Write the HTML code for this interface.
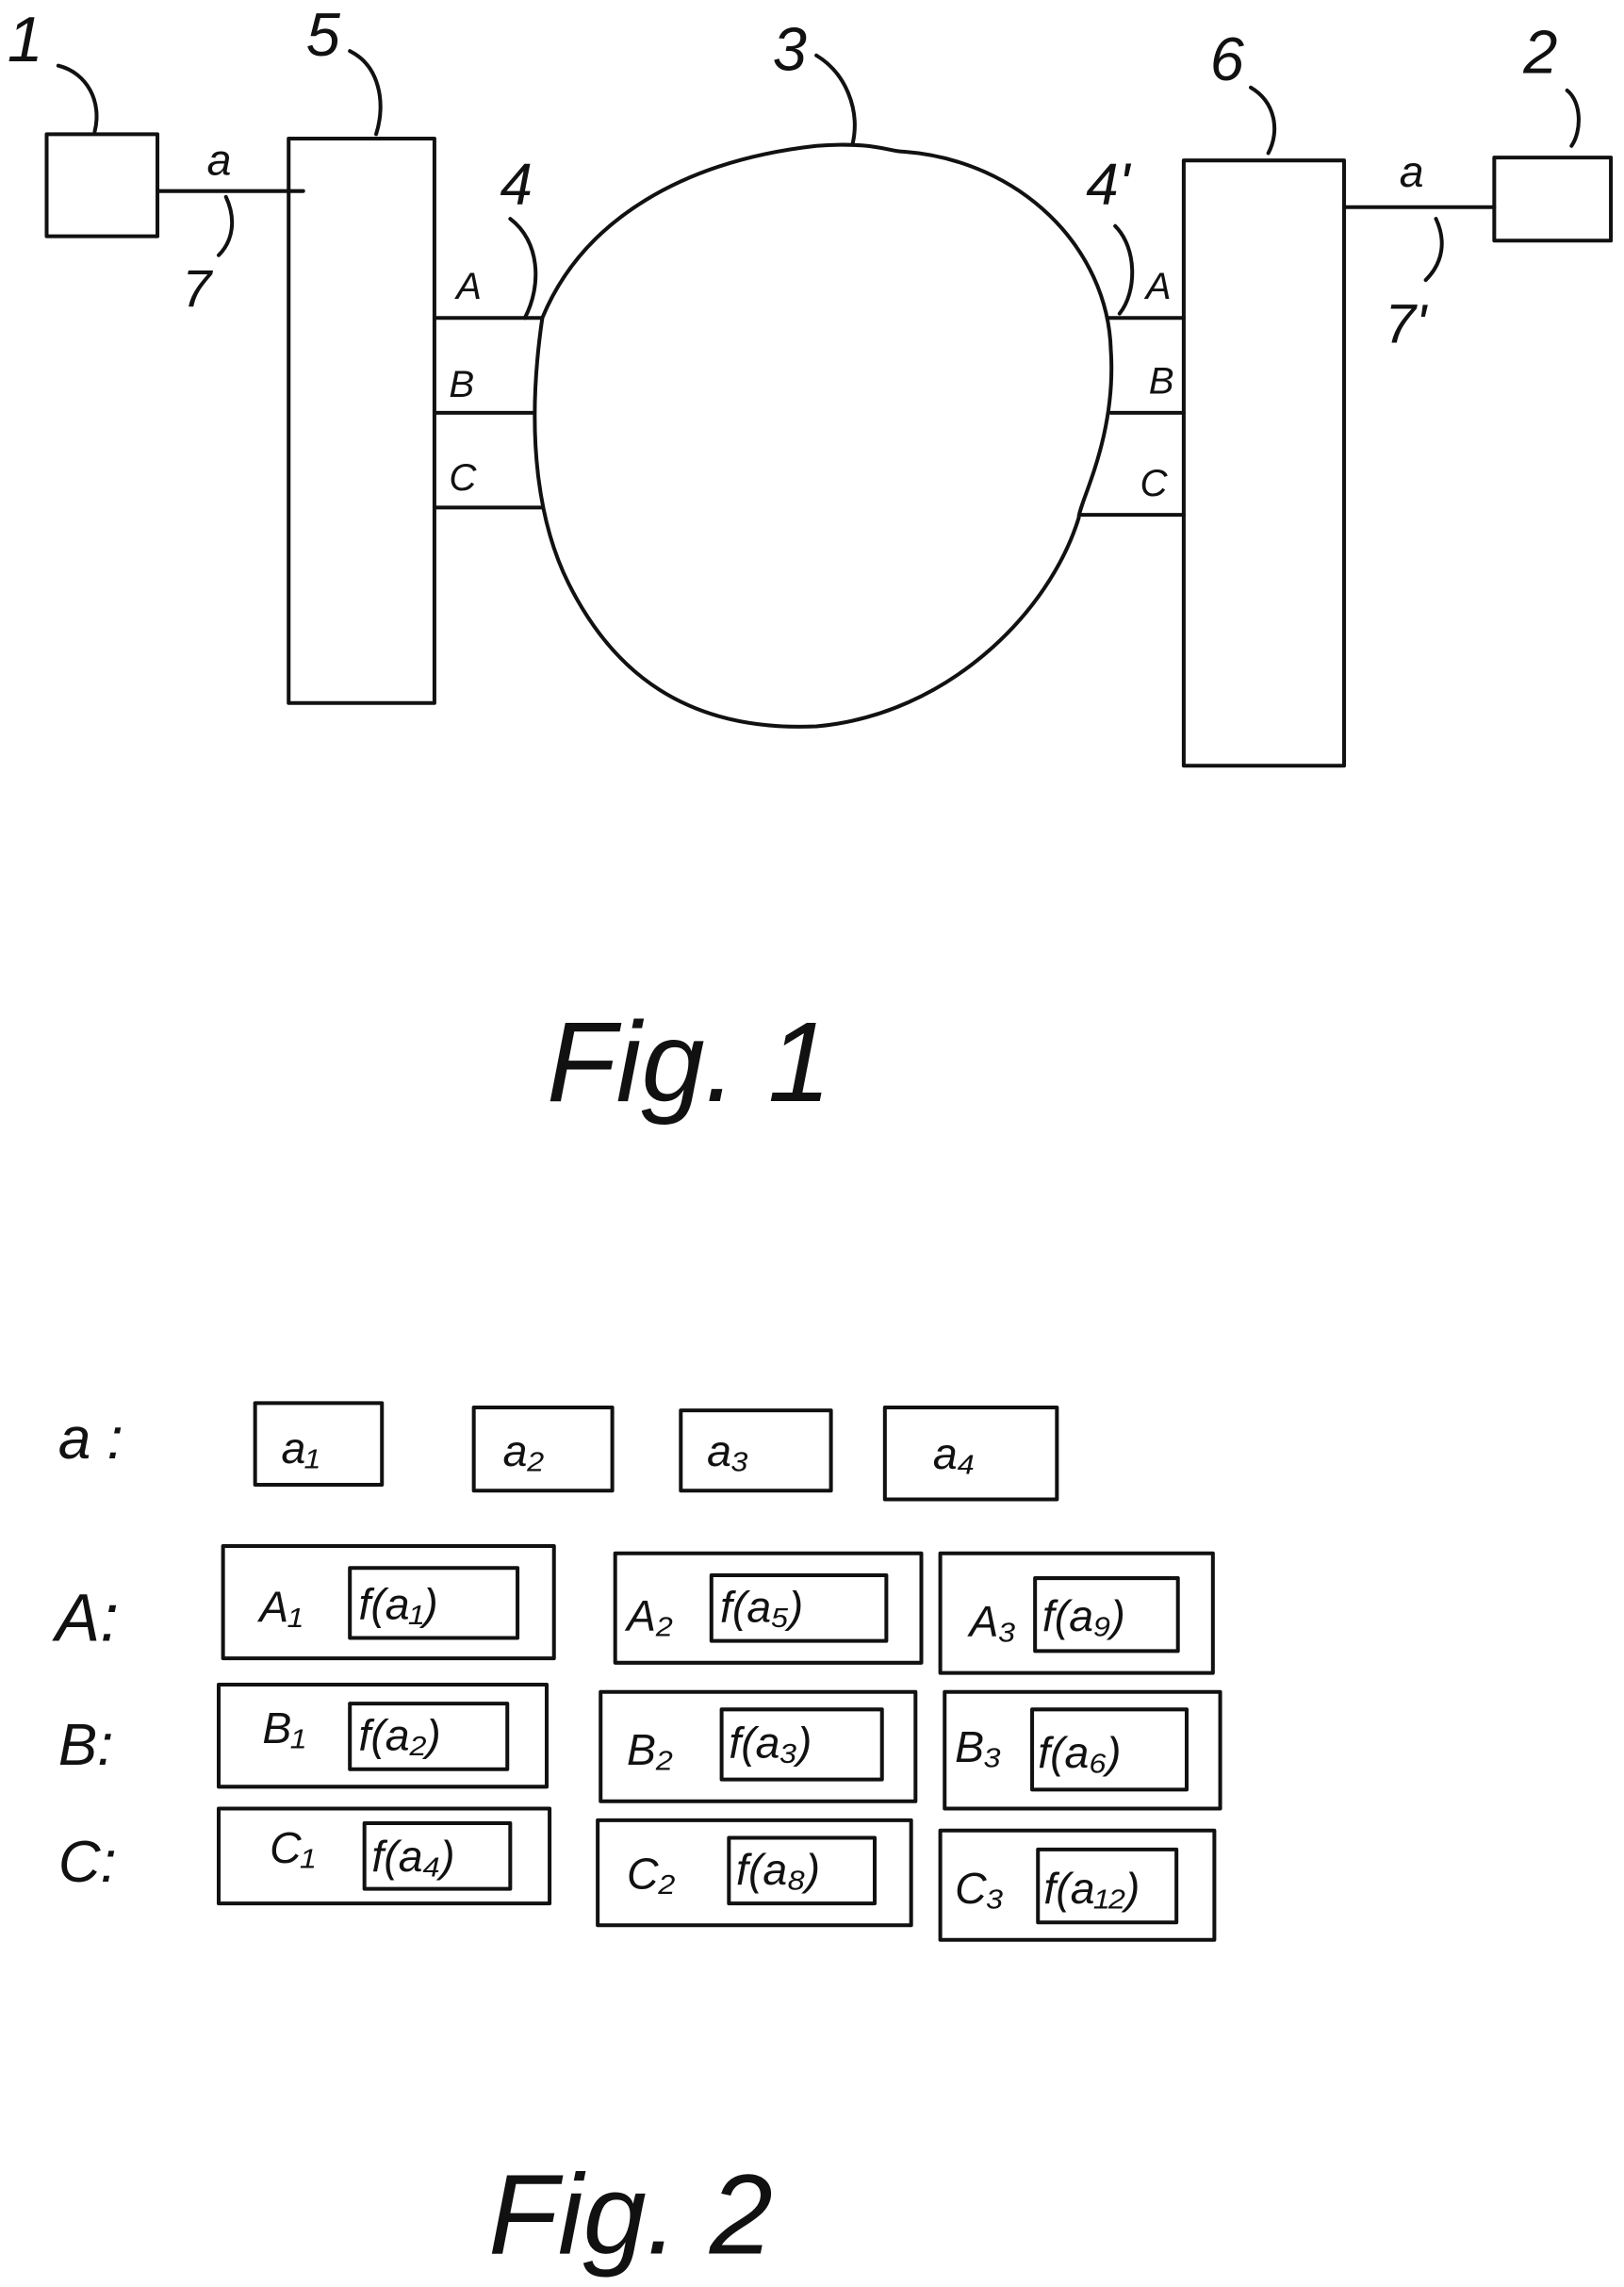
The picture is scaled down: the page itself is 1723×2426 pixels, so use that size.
<!DOCTYPE html>
<html><head><meta charset="utf-8"><style>
html,body{margin:0;padding:0;background:#fff}
svg{display:block}
text{font-family:"Liberation Sans",sans-serif;fill:#111}
</style></head><body>
<svg width="1723" height="2426" viewBox="0 0 1114 1568" preserveAspectRatio="none" xmlns="http://www.w3.org/2000/svg">
<g fill="none" stroke="#111" stroke-width="2.6" stroke-linecap="round" stroke-linejoin="round">
  <!-- Fig 1 -->
  <rect x="32" y="92" width="76" height="70"/>
  <rect x="198" y="95" width="100" height="387"/>
  <path d="M108 131 L208 131"/>
  <path d="M372 218 C400 150 470 110 560 100 C600 97 610 104 620 104 C700 110 760 170 762 240 C766 300 740 345 740 355 C720 420 650 490 560 498 C470 502 420 460 390 400 C370 360 360 300 372 218 Z"/>
  <path d="M298 218 L372 218 M298 283 L366 283 M298 348 L372 348"/>
  <rect x="812" y="110" width="110" height="415"/>
  <path d="M760 218 L812 218 M762 283 L812 283 M742 353 L812 353"/>
  <path d="M922 142 L1025 142"/>
  <rect x="1025" y="108" width="80" height="57"/>
  <!-- leaders -->
  <path d="M40 45 C60 50 70 70 65 90 M240 35 C260 45 265 70 258 92 M560 38 C580 50 590 75 585 98 M350 150 C370 165 372 195 360 218 M858 60 C875 70 878 90 870 105 M1075 62 C1085 70 1085 90 1078 100 M155 135 C162 150 160 165 150 175 M765 155 C780 170 780 200 768 215 M985 150 C992 165 990 180 978 192"/>
  <!-- Fig 2 boxes -->
  <rect x="175" y="962" width="87" height="56"/>
  <rect x="325" y="965" width="95" height="57"/>
  <rect x="467" y="967" width="103" height="55"/>
  <rect x="607" y="965" width="118" height="63"/>
  <rect x="153" y="1060" width="227" height="77"/><rect x="240" y="1075" width="115" height="48"/>
  <rect x="422" y="1065" width="210" height="75"/><rect x="488" y="1080" width="120" height="45"/>
  <rect x="645" y="1065" width="187" height="82"/><rect x="710" y="1082" width="98" height="50"/>
  <rect x="150" y="1155" width="225" height="70"/><rect x="240" y="1168" width="108" height="45"/>
  <rect x="412" y="1160" width="216" height="75"/><rect x="495" y="1172" width="110" height="48"/>
  <rect x="648" y="1160" width="189" height="80"/><rect x="708" y="1172" width="106" height="55"/>
  <rect x="150" y="1240" width="227" height="65"/><rect x="250" y="1250" width="100" height="45"/>
  <rect x="410" y="1248" width="215" height="72"/><rect x="500" y="1260" width="100" height="45"/>
  <rect x="645" y="1255" width="188" height="75"/><rect x="712" y="1268" width="95" height="50"/>
</g>
<g font-size="30" font-style="italic">
  <text x="5" y="42" font-size="44">1</text>
  <text x="210" y="38" font-size="42">5</text>
  <text x="530" y="48" font-size="42">3</text>
  <text x="343" y="140" font-size="40">4</text>
  <text x="830" y="55" font-size="42">6</text>
  <text x="1045" y="50" font-size="42">2</text>
  <text x="745" y="140" font-size="40">4'</text>
  <text x="125" y="210" font-size="36">7</text>
  <text x="950" y="235" font-size="38">7'</text>
  <text x="142" y="120">a</text>
  <text x="960" y="128">a</text>
  <text x="313" y="205" font-size="26">A</text>
  <text x="308" y="272" font-size="26">B</text>
  <text x="308" y="336" font-size="26">C</text>
  <text x="786" y="205" font-size="26">A</text>
  <text x="788" y="270" font-size="26">B</text>
  <text x="782" y="340" font-size="26">C</text>
  <text x="375" y="755" font-size="78">Fig. 1</text>
  <text x="40" y="1000" font-size="40">a :</text>
  <text x="193" y="1003">a₁</text>
  <text x="345" y="1005">a₂</text>
  <text x="485" y="1005">a₃</text>
  <text x="640" y="1007">a₄</text>
  <text x="38" y="1125" font-size="46">A:</text>
  <text x="40" y="1210" font-size="40">B:</text>
  <text x="40" y="1290" font-size="40">C:</text>
  <text x="178" y="1112">A₁</text><text x="246" y="1110">f(a₁)</text>
  <text x="430" y="1118">A₂</text><text x="494" y="1112">f(a₅)</text>
  <text x="665" y="1122">A₃</text><text x="715" y="1118">f(a₉)</text>
  <text x="180" y="1195">B₁</text><text x="246" y="1200">f(a₂)</text>
  <text x="430" y="1210">B₂</text><text x="500" y="1205">f(a₃)</text>
  <text x="655" y="1208">B₃</text><text x="712" y="1212">f(a₆)</text>
  <text x="185" y="1277">C₁</text><text x="255" y="1283">f(a₄)</text>
  <text x="430" y="1295">C₂</text><text x="505" y="1292">f(a₈)</text>
  <text x="655" y="1305">C₃</text><text x="716" y="1305">f(a₁₂)</text>
  <text x="335" y="1545" font-size="78">Fig. 2</text>
</g>
</svg>
</body></html>
